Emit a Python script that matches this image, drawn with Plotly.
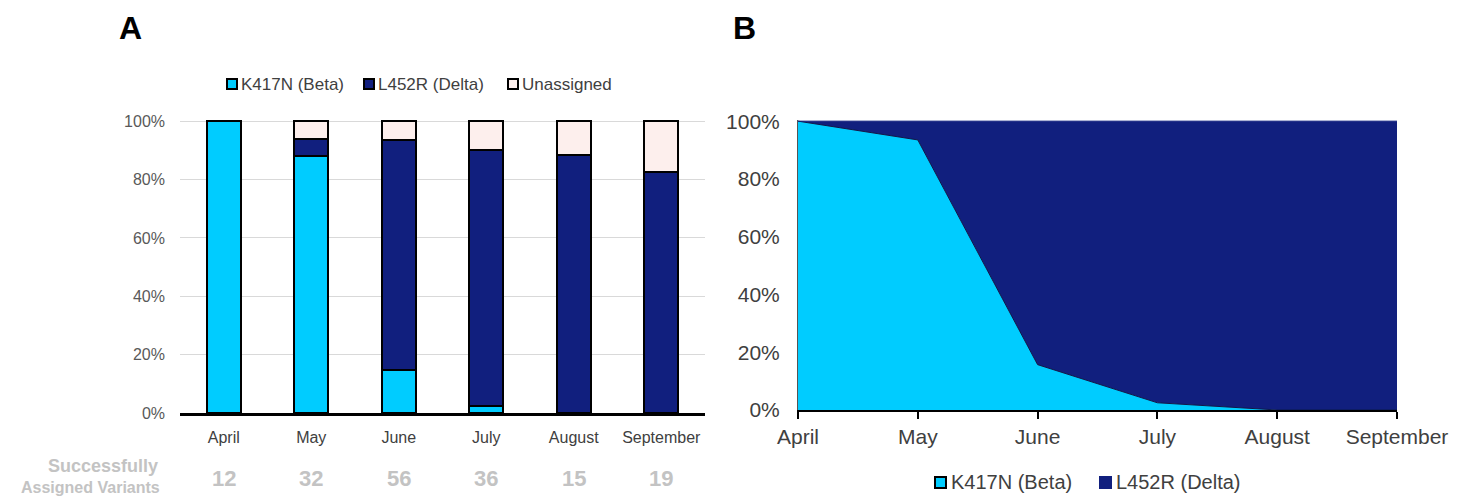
import plotly.graph_objects as go

months = ["April", "May", "June", "July", "August", "September"]
beta_pct = [100, 88, 14.7, 2.3, 0, 0]
delta_pct = [0, 6, 78.8, 87.7, 88.4, 82.6]
unassigned_pct = [0, 6, 6.5, 10, 11.6, 17.4]
assigned_counts = [12, 32, 56, 36, 15, 19]

beta_share = [100, 93.5, 15.7, 2.5, 0, 0]
delta_share = [0, 6.5, 84.3, 97.5, 100, 100]

pct_ticks = [0, 20, 40, 60, 80, 100]
pct_labels = ["0%", "20%", "40%", "60%", "80%", "100%"]

CYAN = "#00CCFF"
NAVY = "#111F7E"
PINK = "#FDEFED"
FONT = "Liberation Sans, Arial, sans-serif"
OFF = 8  # default page body margin
W, H = 1464 - OFF, 496 - OFF


def px_x(p):
    return (p - OFF) / W


def px_y(p):
    return 1 - (p - OFF) / H


fig = go.Figure()

series_a = [("K417N (Beta)", beta_pct, CYAN),
            ("L452R (Delta)", delta_pct, NAVY),
            ("Unassigned", unassigned_pct, PINK)]
for name, vals, col in series_a:
    fig.add_trace(go.Bar(x=months, y=vals, name=name,
                         marker=dict(color=col, line=dict(color="black", width=2)),
                         width=0.39, xaxis="x", yaxis="y", showlegend=False))

xs = list(range(len(months)))
fig.add_trace(go.Scatter(x=xs, y=beta_share, name="K417N (Beta)", stackgroup="one", mode="lines",
                         line=dict(color="#0B1A4A", width=1), fillcolor=CYAN, xaxis="x2", yaxis="y2",
                         showlegend=False))
fig.add_trace(go.Scatter(x=xs, y=delta_share, name="L452R (Delta)", stackgroup="one", mode="lines",
                         line=dict(color=NAVY, width=1), fillcolor=NAVY, xaxis="x2", yaxis="y2",
                         showlegend=False))

annotations = [
    dict(text="<b>A</b>", x=px_x(117), y=1, xref="paper", yref="paper", showarrow=False,
         font=dict(size=32, color="black", family=FONT), xanchor="left", yanchor="top"),
    dict(text="<b>B</b>", x=px_x(731), y=1, xref="paper", yref="paper", showarrow=False,
         font=dict(size=32, color="black", family=FONT), xanchor="left", yanchor="top"),
    dict(text="<b>Successfully</b>", x=px_x(160), y=px_y(466), xref="paper", yref="paper",
         showarrow=False, align="right", xanchor="right", yanchor="middle",
         font=dict(size=18, color="#C3C3C3", family=FONT)),
    dict(text="<b>Assigned Variants</b>", x=px_x(162), y=px_y(487), xref="paper", yref="paper",
         showarrow=False, align="right", xanchor="right", yanchor="middle",
         font=dict(size=16, color="#C3C3C3", family=FONT)),
]
for m, c in zip(months, assigned_counts):
    annotations.append(dict(text=f"<b>{c}</b>", x=m, y=px_y(478), xref="x", yref="paper", showarrow=False,
                            xanchor="center", yanchor="middle", font=dict(size=22, color="#C3C3C3", family=FONT)))

shapes = []
# legend for panel A (hand-built to match the compact Excel-style legend)
legend_a = [(227, "K417N (Beta)", CYAN), (364, "L452R (Delta)", NAVY), (508, "Unassigned", PINK)]
for x0, label, col in legend_a:
    shapes.append(dict(type="rect", xref="paper", yref="paper", x0=px_x(x0), x1=px_x(x0 + 10),
                       y0=px_y(89), y1=px_y(79), fillcolor=col, line=dict(color="black", width=2)))
    annotations.append(dict(text=label, x=px_x(x0 + 12), y=px_y(84), xref="paper", yref="paper",
                            showarrow=False, xanchor="left", yanchor="middle",
                            font=dict(size=17, color="#404040", family=FONT)))
# legend for panel B
legend_b = [(935, "K417N (Beta)", CYAN, "black"), (1100, "L452R (Delta)", NAVY, NAVY)]
for x0, label, col, edge in legend_b:
    shapes.append(dict(type="rect", xref="paper", yref="paper", x0=px_x(x0), x1=px_x(x0 + 11),
                       y0=px_y(488), y1=px_y(477), fillcolor=col, line=dict(color=edge, width=2)))
    annotations.append(dict(text=label, x=px_x(x0 + 14), y=px_y(482), xref="paper", yref="paper",
                            showarrow=False, xanchor="left", yanchor="middle",
                            font=dict(size=20, color="#404040", family=FONT)))

fig.update_layout(
    width=W, height=H, margin=dict(l=0, r=0, t=0, b=0, autoexpand=False),
    paper_bgcolor="white", plot_bgcolor="white",
    barmode="stack",
    font=dict(family=FONT, color="#595959"),
    showlegend=False,
    xaxis=dict(domain=[px_x(180), px_x(705)], anchor="y", showline=True, linecolor="black", linewidth=2.5,
               ticks="", ticklabelstandoff=8, tickfont=dict(size=16, color="#404040"), showgrid=False,
               range=[-0.5, 5.5], automargin=False),
    yaxis=dict(domain=[px_y(413), px_y(120)], anchor="x", range=[0, 100.4], tickvals=pct_ticks,
               ticktext=pct_labels, showgrid=True, gridcolor="#D9D9D9",
               gridwidth=1.2, zeroline=False, showline=False, ticks="", ticklabelstandoff=14,
               tickfont=dict(size=16, color="#595959"), automargin=False),
    xaxis2=dict(domain=[px_x(798), px_x(1397)], anchor="y2", range=[0, 5], tickvals=xs, ticktext=months,
                showline=True, linecolor="black", linewidth=2, ticks="outside", ticklen=7, tickwidth=2,
                tickcolor="black", showgrid=False, zeroline=False, tickfont=dict(size=21, color="#404040"),
                automargin=False),
    yaxis2=dict(domain=[px_y(410), px_y(120)], anchor="x2", range=[0, 100.4], tickvals=pct_ticks,
                ticktext=pct_labels, showgrid=False, zeroline=False,
                showline=True, linecolor="#555555", linewidth=1, ticks="", ticklabelstandoff=13,
                tickfont=dict(size=21, color="#404040"), automargin=False),
    annotations=annotations,
    shapes=shapes,
)

fig.write_html("out.html")
